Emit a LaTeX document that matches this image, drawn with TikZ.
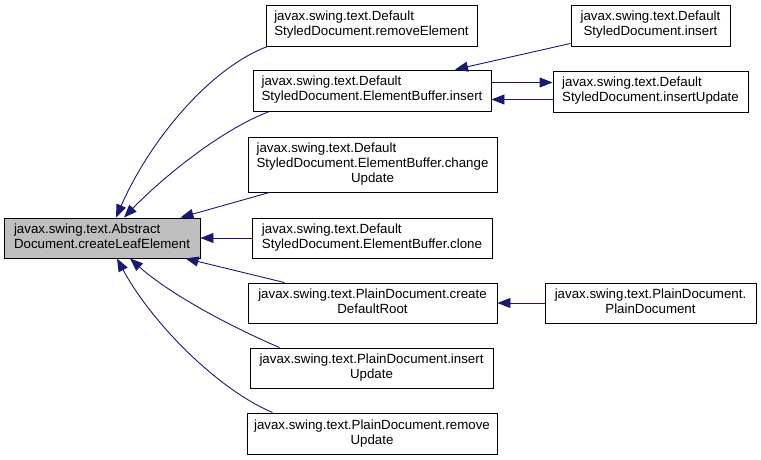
\documentclass[tikz,border=0pt]{standalone}
\usepackage{fontspec}
\setmainfont{Liberation Sans}
\usetikzlibrary{arrows.meta}
\definecolor{edgeblue}{RGB}{25,25,112}
\newcommand{\fnlabel}[2]{\begin{tabular}{@{}c@{}}\multicolumn{1}{@{}l@{}}{#1}\\#2\end{tabular}}

\begin{document}
\begin{tikzpicture}[
  x=1pt, y=-1pt,
  font=\fontsize{13.3}{15}\selectfont,
  box/.style={draw=black, fill=white, line width=0.9pt, inner sep=0pt, minimum height=41pt},
  arrow/.style={-{Triangle[length=13pt,width=10pt]}, edgeblue, line width=0.9pt}
]
\useasboundingbox (0,0) rectangle (761,460);

\node[box, fill=black!25, minimum width=196pt, minimum height=40pt] (leaf) at (102,238) {\fnlabel{javax.swing.text.Abstract}{Document.createLeafElement}};

\node[box, minimum width=211pt] (remove) at (371.5,25.5) {\fnlabel{javax.swing.text.Default}{StyledDocument.removeElement}};
\node[box, minimum width=238pt] (ebinsert) at (372,90.5) {\fnlabel{javax.swing.text.Default}{StyledDocument.ElementBuffer.insert}};
\node[box, minimum width=249pt, minimum height=55pt] (change) at (372.5,164.5) {\fnlabel{javax.swing.text.Default}{StyledDocument.ElementBuffer.change\\Update}};
\node[box, minimum width=240pt, minimum height=40pt] (clone) at (372,238) {\fnlabel{javax.swing.text.Default}{StyledDocument.ElementBuffer.clone}};
\node[box, minimum width=249pt, minimum height=40pt] (defroot) at (372.5,303) {\fnlabel{javax.swing.text.PlainDocument.create}{DefaultRoot}};
\node[box, minimum width=243pt, minimum height=40pt] (pinsert) at (371.5,368) {\fnlabel{javax.swing.text.PlainDocument.insert}{Update}};
\node[box, minimum width=250pt] (premove) at (372,433.5) {\fnlabel{javax.swing.text.PlainDocument.remove}{Update}};

\node[box, minimum width=159pt] (sdinsert) at (650.5,25.5) {\fnlabel{javax.swing.text.Default}{StyledDocument.insert}};
\node[box, minimum width=195pt] (insupd) at (650.5,91.5) {\fnlabel{javax.swing.text.Default}{StyledDocument.insertUpdate}};
\node[box, minimum width=211pt, minimum height=40pt] (pdoc) at (650.5,303) {\fnlabel{javax.swing.text.PlainDocument.}{PlainDocument}};

% callers of createLeafElement
\draw[arrow] ([xshift=2pt]remove.south west) .. controls (210,68) and (150,140) .. ([xshift=14pt]leaf.north);
\draw[arrow] ([xshift=17pt]ebinsert.south west) .. controls (220,130) and (160,180) .. ([xshift=22pt]leaf.north);
\draw[arrow] ([xshift=22pt]change.south west) -- ([xshift=-20pt]leaf.north east);
\draw[arrow] (clone.west) -- (leaf.east);
\draw[arrow] ([xshift=37pt]defroot.north west) -- ([xshift=-15pt]leaf.south east);
\draw[arrow] ([xshift=30pt]pinsert.north west) .. controls (220,322) and (165,290) .. ([xshift=28pt]leaf.south);
\draw[arrow] ([xshift=26pt]premove.north west) .. controls (215,388) and (150,320) .. ([xshift=15pt]leaf.south);

% second level
\draw[arrow] ([yshift=3pt]sdinsert.south west) -- ([xshift=83pt]ebinsert.north);
\draw[arrow] ([yshift=8pt]ebinsert.east) -- ([yshift=9pt]insupd.west);
\draw[arrow] ([yshift=-8pt]insupd.west) -- ([yshift=-9pt]ebinsert.east);
\draw[arrow] (pdoc.west) -- (defroot.east);

\end{tikzpicture}
\end{document}
